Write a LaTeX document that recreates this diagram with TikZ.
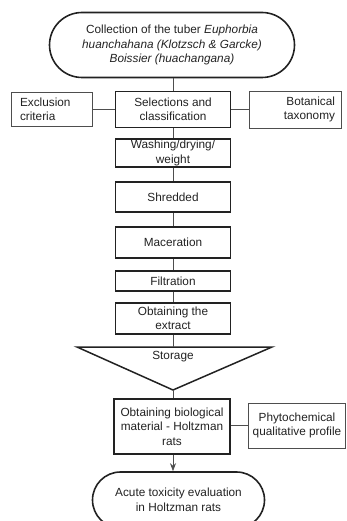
\documentclass[tikz,border=0pt]{standalone}
\usepackage{fontspec}
\setmainfont{Liberation Sans}
\usetikzlibrary{shapes.misc,arrows.meta}
\definecolor{ink}{HTML}{222222}
\begin{document}
\begin{tikzpicture}[x=1pt,y=-1pt,
  txt/.style={font=\fontsize{11.8}{14.5}\selectfont, text=ink, align=center, inner sep=0pt},
  term/.style={txt, draw=ink, line width=1.6pt, rounded rectangle},
  thickbox/.style={txt, draw=ink, line width=1.5pt, rectangle},
  thinbox/.style={txt, draw=ink!80, line width=0.8pt, rectangle},
  conn/.style={draw=ink!80, line width=0.8pt}]
\useasboundingbox (0,0) rectangle (346,521);

\node[term, minimum width=245pt, minimum height=65pt] (top) at (172,45)
  {Collection of the tuber \textit{Euphorbia}\\ \textit{huanchahana (Klotzsch \& Garcke)}\\ \textit{Boissier (huachangana)}};

\node[thickbox, minimum width=115pt, minimum height=36pt] (sel) at (173,109.5) {Selections and\\classification};
\node[thinbox, minimum width=81pt, minimum height=34pt, text width=63pt, align=left] (exc) at (51.5,109.5) {Exclusion\\criteria};
\node[thinbox, minimum width=92pt, minimum height=37pt, text width=80pt, align=right] (bot) at (295,109.5) {Botanical\\taxonomy};
\node[thickbox, minimum width=115pt, minimum height=28pt] (wash) at (173,153) {Washing/drying/\\weight};
\node[thickbox, minimum width=115pt, minimum height=30pt] (shr) at (173,197) {Shredded};
\node[thickbox, minimum width=115pt, minimum height=31pt] (mac) at (173,242.5) {Maceration};
\node[thickbox, minimum width=115pt, minimum height=20pt] (fil) at (173,281) {Filtration};
\node[thickbox, minimum width=115pt, minimum height=31pt] (ext) at (173,318.5) {Obtaining the\\extract};

\coordinate (stt) at (173,347);
\coordinate (sta) at (173,390);
\draw[draw=ink, line width=1.5pt, line join=miter] (77,347) -- (272,347) -- (sta) -- cycle;
\node[txt] (sto) at (173,357) {Storage};

\node[thickbox, minimum width=116pt, minimum height=55pt] (bio) at (172,426.5) {Obtaining biological\\material - Holtzman\\rats};
\node[thinbox, minimum width=97pt, minimum height=45pt] (phy) at (297,425.5) {Phytochemical\\qualitative profile};
\node[term, minimum width=172pt, minimum height=56pt] (acu) at (178.5,500) {Acute toxicity evaluation\\in Holtzman rats};

\draw[conn] (top.south -| sel.north) -- (sel.north);
\draw[conn] (exc) -- (sel);
\draw[conn] (sel) -- (bot);
\draw[conn] (sel) -- (wash);
\draw[conn] (wash) -- (shr);
\draw[conn] (shr) -- (mac);
\draw[conn] (mac) -- (fil);
\draw[conn] (fil) -- (ext);
\draw[conn] (ext.south) -- (stt);
\draw[conn] (sta) -- (sta |- bio.north);
\draw[conn] (bio.east |- phy) -- (phy.west);
\draw[conn, -{Stealth[length=8pt,width=6pt]}] (bio.south -| sta) -- (sta |- acu.north);
\end{tikzpicture}
\end{document}
